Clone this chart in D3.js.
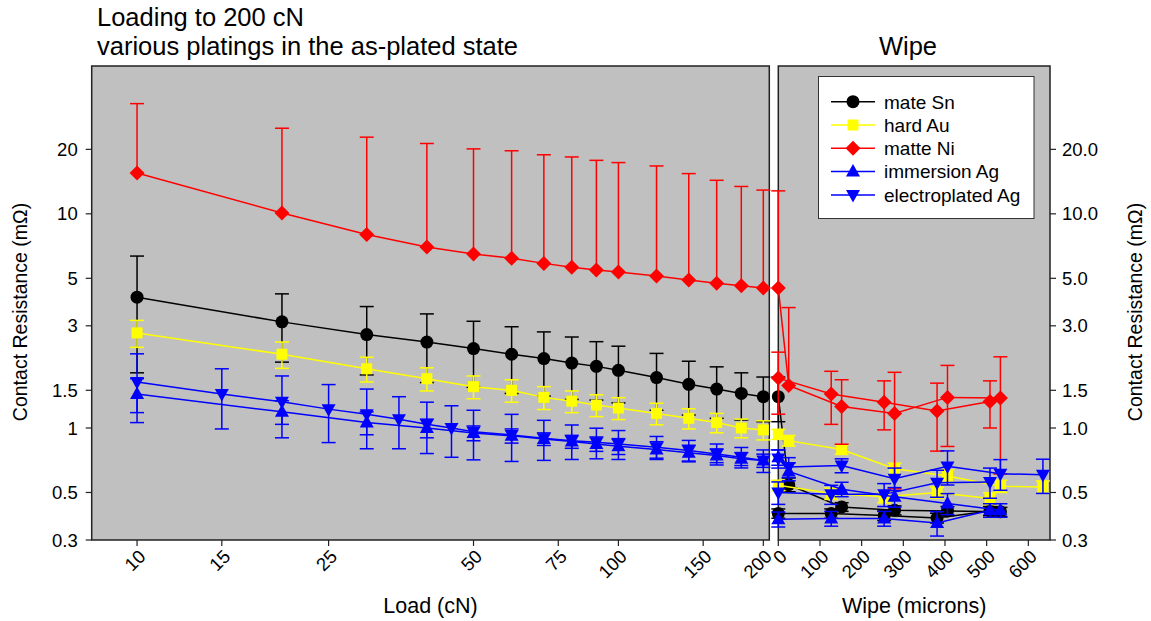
<!DOCTYPE html>
<html>
<head>
<meta charset="utf-8">
<script src="https://cdn.jsdelivr.net/npm/d3@7"></script>
<style>
  body { margin: 0; background: #fff; }
  svg { display: block; }
  text { font-family: "Liberation Sans", Arial, sans-serif; fill: #000; }
</style>
</head>
<body>
<svg id="chart" width="1151" height="621"></svg>
<script>
// ---- Loading phase (x = normal load, cN) ----
const loads = [10, 20, 30, 40, 50, 60, 70, 80, 90, 100, 120, 140, 160, 180, 200];
const loadsEpAg = [10, 15, 20, 25, 30, 35, 40, 45, 50, 60, 70, 80, 90, 100, 120, 140, 160, 180, 200];

const snLoad   = [4.08, 3.13, 2.73, 2.52, 2.35, 2.21, 2.11, 2.01, 1.94, 1.86, 1.72, 1.60, 1.52, 1.45, 1.40];
const snLoadSd = [2.27, 1.10, 0.96, 0.89, 0.80, 0.76, 0.70, 0.65, 0.59, 0.55, 0.51, 0.45, 0.41, 0.36, 0.33];
const auLoad   = [2.78, 2.21, 1.89, 1.70, 1.56, 1.50, 1.39, 1.335, 1.28, 1.24, 1.17, 1.11, 1.06, 1.00, 0.98];
const auLoadSd = [0.40, 0.31, 0.25, 0.21, 0.19, 0.18, 0.17, 0.155, 0.15, 0.145, 0.135, 0.12, 0.11, 0.10, 0.10];
const niLoad   = [15.5, 10.1, 8.0, 7.0, 6.5, 6.2, 5.87, 5.63, 5.47, 5.35, 5.13, 4.91, 4.74, 4.62, 4.51];
const niLoadSd = [17.2, 15.0, 14.8, 14.3, 13.6, 13.5, 13.0, 12.8, 12.3, 12.0, 11.6, 10.5, 9.6, 8.8, 8.4];
const imAgLoad   = [1.44, 1.19, 1.06, 1.00, 0.947, 0.92, 0.889, 0.864, 0.843, 0.822, 0.793, 0.766, 0.744, 0.718, 0.705];
const imAgLoadSd = [0.26, 0.15, 0.13, 0.10, 0.075, 0.07, 0.06, 0.06, 0.065, 0.07, 0.07, 0.065, 0.055, 0.05, 0.05];
const epAgLoad   = [1.64, 1.44, 1.325, 1.225, 1.16, 1.10, 1.04, 1.00, 0.96, 0.928, 0.896, 0.873, 0.858, 0.843, 0.813, 0.785, 0.757, 0.731, 0.705];
const epAgLoadSd = [0.58, 0.45, 0.425, 0.37, 0.36, 0.30, 0.28, 0.27, 0.25, 0.23, 0.19, 0.16, 0.14, 0.13, 0.10, 0.09, 0.085, 0.08, 0.085];

// ---- Wipe phase (x = wipe distance, microns), two runs ----
const wipeA = [0, 127, 254, 381, 508];
const wipeB = [0, 25, 152, 279, 406, 533];
const wipeBLong = [0, 25, 152, 279, 406, 533, 635];

const snWipeA = [0.399, 0.399, 0.39, 0.38, 0.41];
const snWipeASd = [0.02, 0.02, 0.02, 0.02, 0.02];
const snWipeB = [1.40, 0.544, 0.428, 0.413, 0.41, 0.406];
const snWipeBSd = [0.33, 0.04, 0.02, 0.02, 0.02, 0.02];

const auWipeA = [0.54, 0.494, 0.477, 0.50, 0.469];
const auWipeASd = [0.03, 0.03, 0.03, 0.03, 0.03];
const auWipeB = [0.935, 0.873, 0.793, 0.645, 0.597, 0.535, 0.531];
const auWipeBSd = [0.05, 0.05, 0.04, 0.04, 0.04, 0.035, 0.035];

const niWipeA = [1.71, 1.44, 1.32, 1.20, 1.33];
const niWipeASd = [0.55, 0.40, 0.34, 0.42, 0.33];
const niWipeB = [4.5, 1.58, 1.26, 1.17, 1.39, 1.38];
const niWipeBSd = [8.3, 2.07, 0.42, 0.65, 0.57, 0.77];

const imAgWipeA = [0.375, 0.378, 0.378, 0.36, 0.413];
const imAgWipeASd = [0.03, 0.03, 0.03, 0.047, 0.03];
const imAgWipeB = [0.73, 0.627, 0.518, 0.477, 0.444, 0.413];
const imAgWipeBSd = [0.06, 0.06, 0.04, 0.05, 0.05, 0.03];

const epAgWipeA = [0.50, 0.49, 0.49, 0.555, 0.56];
const epAgWipeASd = [0.06, 0.05, 0.06, 0.08, 0.09];
const epAgWipeB = [0.72, 0.657, 0.668, 0.58, 0.662, 0.612, 0.605];
const epAgWipeBSd = [0.07, 0.07, 0.05, 0.07, 0.12, 0.10, 0.11];

// ---- Axes ----
const loadTicks = [10, 15, 25, 50, 75, 100, 150, 200];
const wipeTicks = [0, 100, 200, 300, 400, 500, 600];
const resTicks = [0.3, 0.5, 1, 1.5, 3, 5, 10, 20];

const seriesNames = ["mate Sn", "hard Au", "matte Ni", "immersion Ag", "electroplated Ag"];
const seriesColors = ["#000000", "#ffff00", "#ff0000", "#0000ff", "#0000ff"];
const seriesShapes = ["circle", "square", "diamond", "triUp", "triDown"];

const series = [
  { load: loads,     val: snLoad,   sd: snLoadSd,
    runs: [[wipeA, snWipeA, snWipeASd], [wipeB, snWipeB, snWipeBSd]] },
  { load: loads,     val: auLoad,   sd: auLoadSd,
    runs: [[wipeA, auWipeA, auWipeASd], [wipeBLong, auWipeB, auWipeBSd]] },
  { load: loads,     val: niLoad,   sd: niLoadSd,
    runs: [[wipeA, niWipeA, niWipeASd], [wipeB, niWipeB, niWipeBSd]] },
  { load: loads,     val: imAgLoad, sd: imAgLoadSd,
    runs: [[wipeA, imAgWipeA, imAgWipeASd], [wipeB, imAgWipeB, imAgWipeBSd]] },
  { load: loadsEpAg, val: epAgLoad, sd: epAgLoadSd,
    runs: [[wipeA, epAgWipeA, epAgWipeASd], [wipeBLong, epAgWipeB, epAgWipeBSd]] }
].map((s, i) => ({ ...s, name: seriesNames[i], color: seriesColors[i], shape: seriesShapes[i] }));

// ---- Layout ----
const svg = d3.select("#chart");
const plotTop = 66, plotBottom = 540;
const leftPanel = { x0: 91.7, x1: 769.3 };
const rightPanel = { x0: 778.3, x1: 1050 };

const y = d3.scaleLog().domain([0.3, 49]).range([plotBottom, plotTop]);
const xLoad = d3.scaleLog().domain([8.05, 205.8]).range([leftPanel.x0, leftPanel.x1]);
const xWipe = d3.scaleLinear().domain([0, 652]).range([rightPanel.x0, rightPanel.x1]);

// panel backgrounds
[leftPanel, rightPanel].forEach(p => {
  svg.append("rect")
    .attr("x", p.x0).attr("y", plotTop)
    .attr("width", p.x1 - p.x0).attr("height", plotBottom - plotTop)
    .attr("fill", "#c0c0c0").attr("stroke", "#222").attr("stroke-width", 1.5);
});

// marker shapes
function markerPath(shape) {
  switch (shape) {
    case "circle": return d3.symbol(d3.symbolCircle, Math.PI * 6.5 * 6.5)();
    case "square": return "M-5.5,-5.5H5.5V5.5H-5.5Z";
    case "diamond": return "M0,-7.5L7.5,0L0,7.5L-7.5,0Z";
    case "triUp": return "M0,-7.5L7,5L-7,5Z";
    case "triDown": return "M0,7.5L7,-5L-7,-5Z";
  }
}

const cap = 7;
function drawRun(g, xs, vals, sds, xScale, s) {
  const pts = xs.map((xv, i) => ({ x: xScale(xv), v: vals[i], sd: sds[i] }));
  // error bars (lower half omitted when it would fall at or below zero)
  const eb = g.append("g").attr("stroke", s.color).attr("stroke-width", 1.5).attr("fill", "none");
  pts.forEach(p => {
    const yc = y(p.v), yt = y(p.v + p.sd);
    eb.append("line").attr("x1", p.x).attr("x2", p.x).attr("y1", yc).attr("y2", yt);
    eb.append("line").attr("x1", p.x - cap).attr("x2", p.x + cap).attr("y1", yt).attr("y2", yt);
    const lo = p.v - p.sd;
    if (lo > 0) {
      const yb = y(lo);
      eb.append("line").attr("x1", p.x).attr("x2", p.x).attr("y1", yc).attr("y2", yb);
      eb.append("line").attr("x1", p.x - cap).attr("x2", p.x + cap).attr("y1", yb).attr("y2", yb);
    }
  });
  // connecting line
  g.append("path")
    .attr("d", d3.line().x(p => p.x).y(p => y(p.v))(pts))
    .attr("fill", "none").attr("stroke", s.color).attr("stroke-width", 1.5);
  // markers
  g.append("g").selectAll("path").data(pts).join("path")
    .attr("d", markerPath(s.shape))
    .attr("transform", p => `translate(${p.x},${y(p.v)})`)
    .attr("fill", s.color);
}

const plot = svg.append("g");
series.forEach(s => {
  const g = plot.append("g");
  drawRun(g, s.load, s.val, s.sd, xLoad, s);
});
series.forEach(s => {
  const g = plot.append("g");
  s.runs.forEach(r => drawRun(g, r[0], r[1], r[2], xWipe, s));
});

// ---- Axes ----
const tickLen = 6;
const axisFont = 18.5;

// left y axis
const yl = svg.append("g");
resTicks.forEach(t => {
  yl.append("line").attr("x1", leftPanel.x0 - tickLen).attr("x2", leftPanel.x0)
    .attr("y1", y(t)).attr("y2", y(t)).attr("stroke", "#222").attr("stroke-width", 1.2);
  yl.append("text").attr("x", leftPanel.x0 - 14).attr("y", y(t)).attr("dy", "0.36em")
    .attr("text-anchor", "end").attr("font-size", axisFont).text(d3.format("~g")(t));
});
// right y axis
const yr = svg.append("g");
resTicks.forEach(t => {
  yr.append("line").attr("x1", rightPanel.x1).attr("x2", rightPanel.x1 + tickLen)
    .attr("y1", y(t)).attr("y2", y(t)).attr("stroke", "#222").attr("stroke-width", 1.2);
  yr.append("text").attr("x", rightPanel.x1 + 12).attr("y", y(t)).attr("dy", "0.36em")
    .attr("text-anchor", "start").attr("font-size", axisFont).text(d3.format(".1f")(t));
});

// bottom axes with rotated labels
function bottomAxis(ticks, scale) {
  const g = svg.append("g");
  ticks.forEach(t => {
    const x = scale(t);
    g.append("line").attr("x1", x).attr("x2", x).attr("y1", plotBottom).attr("y2", plotBottom + tickLen)
      .attr("stroke", "#222").attr("stroke-width", 1.2);
    g.append("text").attr("transform", `translate(${x + 5},${plotBottom + 13}) rotate(-45)`)
      .attr("text-anchor", "end").attr("dy", "0.36em").attr("font-size", axisFont).text(t);
  });
}
bottomAxis(loadTicks, xLoad);
bottomAxis(wipeTicks, xWipe);

// axis titles
const titleFont = 21.5;
svg.append("text").attr("x", (leftPanel.x0 + leftPanel.x1) / 2).attr("y", 613)
  .attr("text-anchor", "middle").attr("font-size", titleFont).text("Load (cN)");
svg.append("text").attr("x", (rightPanel.x0 + rightPanel.x1) / 2).attr("y", 613)
  .attr("text-anchor", "middle").attr("font-size", titleFont).text("Wipe (microns)");
svg.append("text").attr("transform", "translate(27,312) rotate(-90)")
  .attr("text-anchor", "middle").attr("font-size", 19.5).text("Contact Resistance (mΩ)");
svg.append("text").attr("transform", "translate(1142,312) rotate(-90)")
  .attr("text-anchor", "middle").attr("font-size", 19.5).text("Contact Resistance (mΩ)");

// chart titles
svg.append("text").attr("x", 97).attr("y", 26).attr("font-size", 25.5).text("Loading to 200 cN");
svg.append("text").attr("x", 97).attr("y", 55).attr("font-size", 25.5).text("various platings in the as-plated state");
svg.append("text").attr("x", 908).attr("y", 55).attr("text-anchor", "middle").attr("font-size", 25.5).text("Wipe");

// ---- Legend ----
const lg = svg.append("g");
lg.append("rect").attr("x", 818.5).attr("y", 76.5).attr("width", 215.5).attr("height", 142)
  .attr("fill", "#fff").attr("stroke", "#333").attr("stroke-width", 1);
series.forEach((s, i) => {
  const ly = 101.7 + i * 23.3;
  lg.append("line").attr("x1", 831).attr("x2", 875).attr("y1", ly).attr("y2", ly)
    .attr("stroke", s.color).attr("stroke-width", 1.5);
  lg.append("path").attr("d", markerPath(s.shape)).attr("transform", `translate(853,${ly})`)
    .attr("fill", s.color);
  lg.append("text").attr("x", 884).attr("y", ly).attr("dy", "0.36em").attr("font-size", 19).text(s.name);
});
</script>
</body>
</html>
